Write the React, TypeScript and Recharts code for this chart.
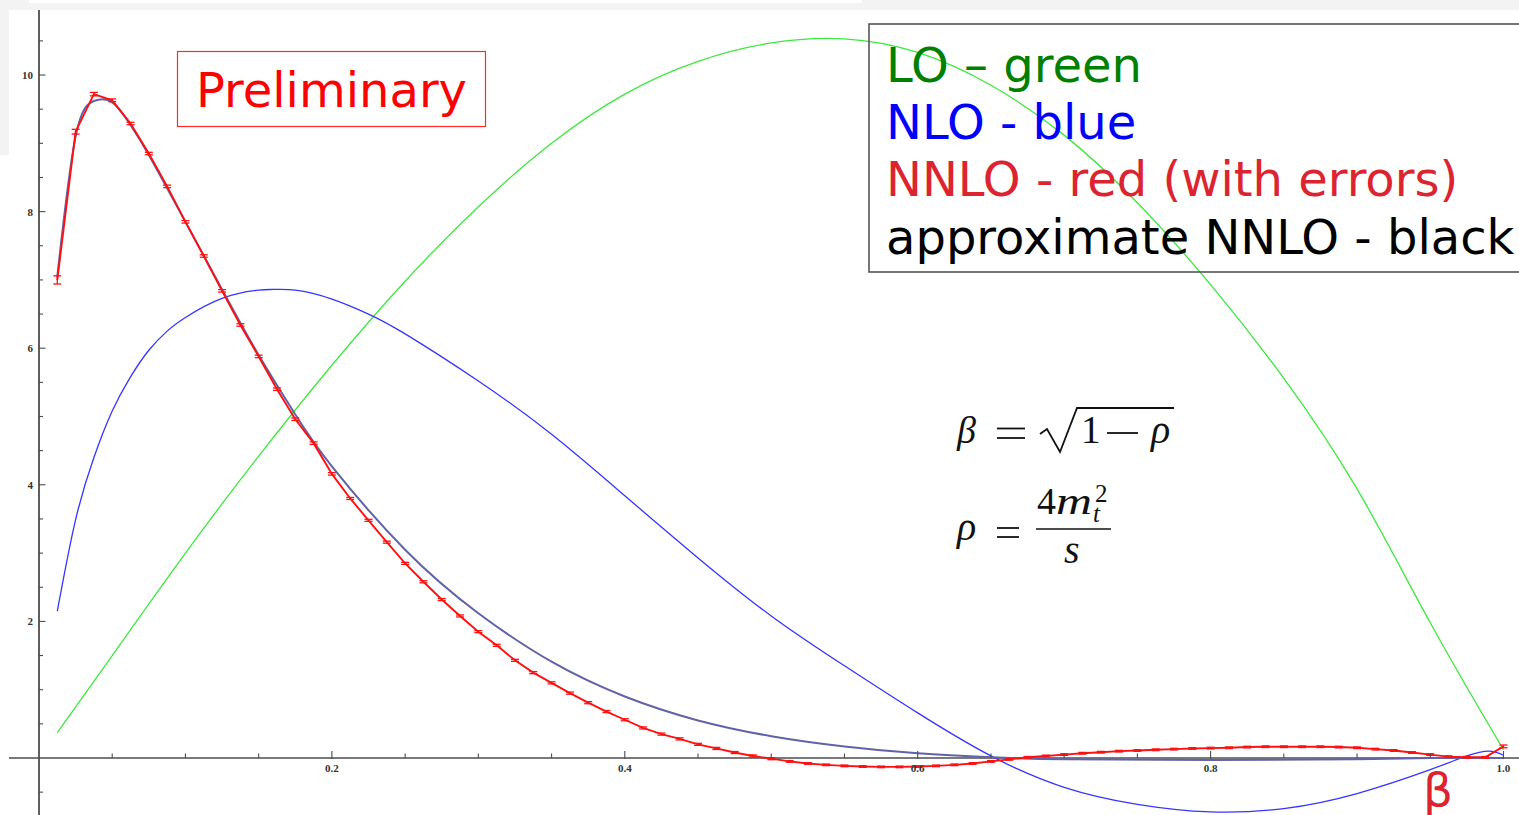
import React from "react";
import { ErrorBar, Line, LineChart, ReferenceDot, ReferenceLine, XAxis, YAxis } from "recharts";

// partonic cross sections vs beta, sampled off the calculation grid
const nnloBeta = [
  0.0125, 0.025, 0.0375, 0.05, 0.0625, 0.075, 0.0875, 0.1, 0.1125, 0.125, 0.1375, 0.15, 0.1625, 0.175, 0.1875, 0.2,
  0.2125, 0.225, 0.2375, 0.25, 0.2625, 0.275, 0.2875, 0.3, 0.3125, 0.325, 0.3375, 0.35, 0.3625, 0.375, 0.3875, 0.4,
  0.4125, 0.425, 0.4375, 0.45, 0.4625, 0.475, 0.4875, 0.5, 0.5125, 0.525, 0.5375, 0.55, 0.5625, 0.575, 0.5875, 0.6,
  0.6125, 0.625, 0.6375, 0.65, 0.6625, 0.675, 0.6875, 0.7, 0.7125, 0.725, 0.7375, 0.75, 0.7625, 0.775, 0.7875, 0.8,
  0.8125, 0.825, 0.8375, 0.85, 0.8625, 0.875, 0.8875, 0.9, 0.9125, 0.925, 0.9375, 0.95, 0.9625, 0.975, 0.9875, 1.0,
];
const nnloSigma = [
  7.0, 9.17, 9.72, 9.63, 9.29, 8.85, 8.37, 7.85, 7.35, 6.84, 6.34, 5.88, 5.4, 4.96, 4.61, 4.16,
  3.8, 3.48, 3.16, 2.85, 2.58, 2.32, 2.08, 1.85, 1.65, 1.43, 1.25, 1.1, 0.95, 0.81, 0.68, 0.56,
  0.44, 0.35, 0.28, 0.2, 0.14, 0.08, 0.03, -0.01, -0.05, -0.08, -0.1, -0.115, -0.125, -0.13, -0.13, -0.125,
  -0.115, -0.1, -0.08, -0.05, -0.02, 0.01, 0.03, 0.05, 0.07, 0.085, 0.1, 0.11, 0.12, 0.13, 0.14, 0.145,
  0.15, 0.16, 0.165, 0.165, 0.165, 0.165, 0.16, 0.15, 0.13, 0.11, 0.08, 0.05, 0.02, 0.01, 0.01, 0.17,
];
const nnloError = [
  0.06, 0.035, 0.025, 0.02, 0.018, 0.018, 0.018, 0.018, 0.018, 0.018, 0.018, 0.018, 0.018, 0.018, 0.018, 0.018,
  0.015, 0.015, 0.015, 0.015, 0.015, 0.015, 0.015, 0.015, 0.015, 0.015, 0.015, 0.015, 0.015, 0.015, 0.015, 0.015,
  0.015, 0.015, 0.015, 0.015, 0.015, 0.015, 0.015, 0.015, 0.012, 0.012, 0.012, 0.012, 0.012, 0.012, 0.012, 0.012,
  0.012, 0.012, 0.012, 0.012, 0.012, 0.012, 0.012, 0.012, 0.012, 0.012, 0.012, 0.012, 0.012, 0.012, 0.012, 0.012,
  0.012, 0.012, 0.012, 0.012, 0.012, 0.012, 0.012, 0.012, 0.012, 0.012, 0.012, 0.012, 0.012, 0.012, 0.012, 0.02,
];

const approxBeta = [
  0.0125, 0.025, 0.0375, 0.05, 0.0625, 0.075, 0.1, 0.125, 0.15, 0.175, 0.2, 0.25, 0.3, 0.35, 0.4, 0.45, 0.5, 0.55,
  0.6, 0.65, 0.7, 0.8, 0.9, 0.95, 1.0,
];
const approxSigma = [
  7.05, 9.1, 9.62, 9.6, 9.27, 8.83, 7.85, 6.86, 5.9, 5.03, 4.27, 3.05, 2.12, 1.41, 0.9, 0.55, 0.32, 0.17,
  0.07, 0.01, -0.02, -0.03, -0.02, 0.0, 0.0,
];

const nloBeta = [
  0.0125, 0.025, 0.0375, 0.05, 0.0625, 0.075, 0.0875, 0.1, 0.125, 0.15, 0.16, 0.175, 0.2, 0.225, 0.25, 0.3, 0.35,
  0.4, 0.45, 0.5, 0.55, 0.6, 0.65, 0.7, 0.75, 0.8, 0.85, 0.9, 0.95, 0.975, 0.99, 1.0,
];
const nloSigma = [
  2.15, 3.49, 4.4, 5.08, 5.58, 5.97, 6.25, 6.45, 6.73, 6.85, 6.86, 6.85, 6.72, 6.5, 6.21, 5.52, 4.74,
  3.84, 2.93, 2.08, 1.35, 0.66, 0.03, -0.43, -0.68, -0.79, -0.74, -0.52, -0.17, 0.03, 0.1, 0.04,
];

const loBeta = [
  0.0125, 0.05, 0.1, 0.15, 0.2, 0.25, 0.3, 0.35, 0.4, 0.45, 0.5, 0.55, 0.6, 0.65, 0.7, 0.75, 0.8, 0.85, 0.9,
  0.95, 1.0,
];
const loSigma = [
  0.37, 1.5, 3.0, 4.42, 5.75, 6.98, 8.07, 9.0, 9.72, 10.2, 10.47, 10.53, 10.33, 9.85, 9.12, 8.13, 6.93, 5.56, 3.94,
  1.98, 0.12,
];

const xTicks = [0.05, 0.1, 0.15, 0.2, 0.25, 0.3, 0.35, 0.4, 0.45, 0.5, 0.55, 0.6, 0.65, 0.7, 0.75, 0.8, 0.85, 0.9, 0.95, 1.0];
const xTickLabels = ["0.2", "0.4", "0.6", "0.8", "1.0"];
const yTicks = [-0.5, 0.5, 1, 1.5, 2, 2.5, 3, 3.5, 4, 4.5, 5, 5.5, 6, 6.5, 7, 7.5, 8, 8.5, 9, 9.5, 10, 10.5];
const yTickLabels = ["2", "4", "6", "8", "10"];

const legendItems = [
  { text: "LO \u2013 green", color: "#008000" },
  { text: "NLO - blue", color: "#0000ff" },
  { text: "NNLO - red (with errors)", color: "#dc2430" },
  { text: "approximate NNLO - black", color: "#000000" },
];

const nnloData = nnloBeta.map((x, i) => ({ x, y: nnloSigma[i], err: nnloError[i] }));
const approxData = approxBeta.map((x, i) => ({ x, y: approxSigma[i] }));
const nloData = nloBeta.map((x, i) => ({ x, y: nloSigma[i] }));
const loData = loBeta.map((x, i) => ({ x, y: loSigma[i] }));

const AXIS = "#4d4d4d";
const tickFont = { fontFamily: "'Liberation Serif', serif", fontSize: 11, fontWeight: 700, fill: "#333" };

const fmt = (v: number) => (Number.isInteger(v) ? String(v) : v.toFixed(1));

const XTick = (label: string | null) => (props: any) => {
  const { cx, cy } = props;
  const len = label ? 7 : 4.5;
  return (
    <g>
      <line x1={cx} x2={cx} y1={cy + (label ? 1 : 0)} y2={cy - len} stroke={AXIS} strokeWidth={1.1} />
      {label && (
        <text x={cx} y={cy + 14} textAnchor="middle" {...tickFont}>
          {label}
        </text>
      )}
    </g>
  );
};

const YTick = (label: string | null) => (props: any) => {
  const { cx, cy } = props;
  const len = label ? 6.5 : 4;
  return (
    <g>
      <line x1={cx} x2={cx + len} y1={cy} y2={cy} stroke={AXIS} strokeWidth={1.1} />
      {label && (
        <text x={cx - 6} y={cy + 4} textAnchor="end" {...tickFont}>
          {label}
        </text>
      )}
    </g>
  );
};

const mathFont = "'Liberation Serif', 'DejaVu Serif', serif";
const INK = "#111";

export default function App() {
  return (
    <div style={{ position: "absolute", left: 0, top: 0, width: 1519, height: 815, background: "#fff", overflow: "hidden" }}>
      {/* light frame strips along the top and left edge */}
      <div style={{ position: "absolute", left: 0, top: 0, width: 1519, height: 10, background: "#f3f3f3" }} />
      <div style={{ position: "absolute", left: 29, top: 0, width: 833, height: 3, background: "#fff" }} />
      <div style={{ position: "absolute", left: 0, top: 10, width: 9, height: 145, background: "#f3f3f3" }} />

      <div style={{ position: "absolute", left: 0, top: 0 }}>
        <LineChart width={1519} height={815} margin={{ top: 10, right: 0, bottom: 0, left: 9 }}>
          <XAxis type="number" dataKey="x" domain={[-0.02048, 1.01059]} allowDataOverflow hide />
          <YAxis type="number" dataKey="y" domain={[-0.8346, 10.952]} allowDataOverflow hide />

          <ReferenceLine y={0} stroke={AXIS} strokeWidth={1.5} />
          <ReferenceLine x={0} stroke={AXIS} strokeWidth={1.8} />
          {xTicks.map((t) => {
            const label = xTickLabels.find((l) => Math.abs(parseFloat(l) - t) < 1e-9) ?? null;
            return <ReferenceDot key={`x${t}`} x={t} y={0} r={0} shape={XTick(label)} />;
          })}
          {yTicks.map((t) => {
            const label = yTickLabels.includes(fmt(t)) ? fmt(t) : null;
            return <ReferenceDot key={`y${t}`} x={0} y={t} r={0} shape={YTick(label)} />;
          })}

          <Line data={loData} dataKey="y" type="natural" stroke="#3ee83e" strokeWidth={1.3} dot={false} isAnimationActive={false} />
          <Line data={nloData} dataKey="y" type="natural" stroke="#3535ff" strokeWidth={1.3} dot={false} isAnimationActive={false} />
          <Line data={approxData} dataKey="y" type="natural" stroke="#6262a6" strokeWidth={2} dot={false} isAnimationActive={false} />
          <Line data={nnloData} dataKey="y" type="linear" stroke="#ff1010" strokeWidth={1.9} dot={false} isAnimationActive={false}>
            <ErrorBar dataKey="err" direction="y" width={4} stroke="#ff1010" strokeWidth={1.3} />
          </Line>
        </LineChart>
      </div>

      <svg width={1519} height={815} style={{ position: "absolute", left: 0, top: 0, pointerEvents: "none" }}>
        <rect x={177.5} y={51.5} width={308} height={75} fill="none" stroke="#ff2a2a" strokeWidth={1.2} />
        <text x={331.5} y={107} textAnchor="middle" fontFamily="'DejaVu Sans', sans-serif" fontSize={48} fill="#ff0000">
          Preliminary
        </text>

        <rect x={869} y={24} width={680} height={248} fill="none" stroke="#555" strokeWidth={1.6} />
        {legendItems.map((item, i) => (
          <text key={item.text} x={886} y={82 + i * 57.2} fontFamily="'DejaVu Sans', sans-serif" fontSize={48} fill={item.color}>
            {item.text}
          </text>
        ))}

        {/* beta = sqrt(1 - rho) */}
        <g fontFamily={mathFont} fill={INK} fontSize={38}>
          <text x={957} y={443} fontStyle="italic">β</text>
          <line x1={997} x2={1025} y1={428.5} y2={428.5} stroke={INK} strokeWidth={1.8} />
          <line x1={997} x2={1025} y1={438} y2={438} stroke={INK} strokeWidth={1.8} />
          <path d="M1040,434 L1047,429 L1060,452 L1077,408 L1174,408" fill="none" stroke={INK} strokeWidth={1.8} />
          <text x={1081} y={443} fontSize={39}>1</text>
          <line x1={1107} x2={1138} y1={433} y2={433} stroke={INK} strokeWidth={1.8} />
          <text x={1151} y={443} fontStyle="italic" fontSize={40}>ρ</text>
        </g>

        {/* rho = 4 m_t^2 / s */}
        <g fontFamily={mathFont} fill={INK} fontSize={38}>
          <text x={957} y={540} fontStyle="italic" fontSize={40}>ρ</text>
          <line x1={997} x2={1019} y1={528} y2={528} stroke={INK} strokeWidth={1.8} />
          <line x1={997} x2={1019} y1={537} y2={537} stroke={INK} strokeWidth={1.8} />
          <text x={1037} y={514}>4</text>
          <text x={1056} y={514} fontStyle="italic" textLength={36} lengthAdjust="spacingAndGlyphs">m</text>
          <text x={1093} y={522} fontStyle="italic" fontSize={25}>t</text>
          <text x={1095} y={502} fontSize={25}>2</text>
          <line x1={1036} x2={1111} y1={529} y2={529} stroke={INK} strokeWidth={1.6} />
          <text x={1064} y={563} fontStyle="italic" fontSize={40}>s</text>
        </g>

        <text x={1423} y={806} fontFamily="'DejaVu Sans', sans-serif" fontSize={47} fill="#dc2430">
          β
        </text>
      </svg>
    </div>
  );
}
